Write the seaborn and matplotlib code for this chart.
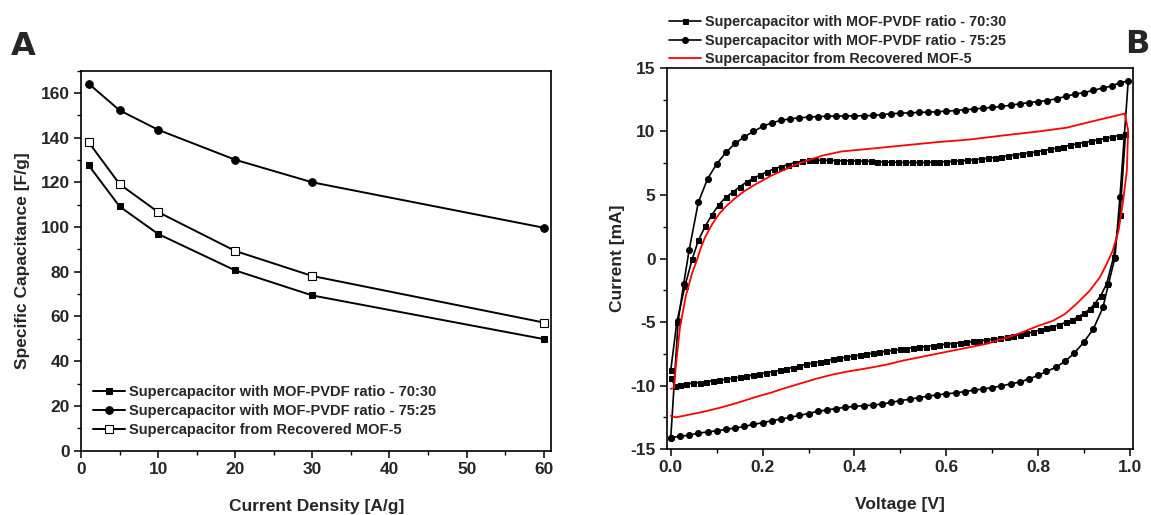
import matplotlib
matplotlib.use('Agg')
import matplotlib.pyplot as plt
import seaborn as sns
import pandas as pd
from matplotlib.ticker import MultipleLocator, FormatStrFormatter

sns.set_style('ticks')
plt.rcParams['font.family'] = ['Liberation Sans', 'DejaVu Sans']
plt.rcParams['axes.unicode_minus'] = False

# ---- Panel A: specific capacitance vs current density
density = [1, 5, 10, 20, 30, 60]
cap_7030 = [127.6, 109.2, 96.9, 80.6, 69.4, 49.9]
cap_7525 = [164.1, 152.2, 143.5, 130.1, 120.0, 99.7]
cap_rec = [137.9, 119.2, 106.7, 89.3, 78.1, 57.3]

labels = ['Supercapacitor with MOF-PVDF ratio - 70:30',
          'Supercapacitor with MOF-PVDF ratio - 75:25',
          'Supercapacitor from Recovered MOF-5']

# ---- Panel B: cyclic voltammetry loops (voltage V, current mA)
v_7030 = [0.000, 0.013, 0.031, 0.047, 0.060, 0.075, 0.090, 0.105, 0.120, 0.135,
          0.150, 0.165, 0.180, 0.195, 0.210, 0.225, 0.240, 0.255, 0.270, 0.285,
          0.300, 0.315, 0.330, 0.345, 0.360, 0.375, 0.390, 0.405, 0.420, 0.435,
          0.450, 0.465, 0.480, 0.495, 0.510, 0.525, 0.540, 0.555, 0.570, 0.585,
          0.600, 0.615, 0.630, 0.645, 0.660, 0.675, 0.690, 0.705, 0.720, 0.735,
          0.750, 0.765, 0.780, 0.795, 0.810, 0.825, 0.840, 0.855, 0.870, 0.885,
          0.900, 0.915, 0.930, 0.945, 0.960, 0.975, 0.990,
          0.978, 0.964,
          0.949, 0.936, 0.923, 0.912, 0.900, 0.887, 0.874, 0.860, 0.846, 0.831,
          0.818, 0.803, 0.789, 0.774, 0.760, 0.745, 0.731, 0.716, 0.702, 0.687,
          0.672, 0.658, 0.643, 0.629, 0.614, 0.600, 0.585, 0.570, 0.556, 0.541,
          0.527, 0.512, 0.498, 0.483, 0.469, 0.454, 0.440, 0.425, 0.411, 0.396,
          0.382, 0.367, 0.353, 0.338, 0.324, 0.309, 0.295, 0.280, 0.266, 0.251,
          0.237, 0.222, 0.208, 0.193, 0.179, 0.164, 0.150, 0.135, 0.121, 0.106,
          0.092, 0.077, 0.063, 0.048, 0.034, 0.019, 0.009, 0.000]
i_7030 = [-8.78, -5.03, -2.14, 0.00, 1.42, 2.54, 3.46, 4.25, 4.83, 5.22,
          5.65, 6.01, 6.33, 6.58, 6.84, 7.06, 7.24, 7.40, 7.55, 7.66,
          7.72, 7.74, 7.74, 7.73, 7.71, 7.70, 7.68, 7.67, 7.66, 7.66,
          7.63, 7.60, 7.58, 7.57, 7.56, 7.56, 7.56, 7.56, 7.58, 7.61,
          7.63, 7.65, 7.69, 7.73, 7.78, 7.83, 7.88, 7.95, 8.01, 8.08,
          8.15, 8.23, 8.31, 8.39, 8.49, 8.60, 8.69, 8.80, 8.92, 9.03,
          9.13, 9.23, 9.34, 9.45, 9.56, 9.68, 9.80,
          3.41, 0.10,
          -2.00, -2.93, -3.58, -3.98, -4.32, -4.58, -4.84, -5.03, -5.21, -5.37,
          -5.47, -5.63, -5.78, -5.90, -6.00, -6.10, -6.21, -6.29, -6.36, -6.42,
          -6.48, -6.53, -6.59, -6.64, -6.70, -6.75, -6.80, -6.87, -6.93, -6.98,
          -7.03, -7.09, -7.16, -7.23, -7.30, -7.38, -7.46, -7.52, -7.60, -7.68,
          -7.76, -7.85, -7.94, -8.03, -8.13, -8.24, -8.34, -8.47, -8.58, -8.70,
          -8.80, -8.91, -9.00, -9.09, -9.18, -9.26, -9.34, -9.43, -9.51, -9.57,
          -9.63, -9.70, -9.76, -9.82, -9.87, -9.93, -10.00, -9.40]

v_7525 = [0.000, 0.016, 0.028, 0.040, 0.060, 0.080, 0.100, 0.120, 0.140, 0.160,
          0.180, 0.200, 0.220, 0.240, 0.260, 0.280, 0.300, 0.320, 0.340, 0.360,
          0.380, 0.400, 0.420, 0.440, 0.460, 0.480, 0.500, 0.520, 0.540, 0.560,
          0.580, 0.600, 0.620, 0.640, 0.660, 0.680, 0.700, 0.720, 0.740, 0.760,
          0.780, 0.800, 0.820, 0.840, 0.860, 0.880, 0.900, 0.920, 0.940, 0.960,
          0.978, 0.996,
          0.978, 0.967,
          0.953, 0.941, 0.920, 0.899, 0.878, 0.858, 0.838, 0.818, 0.800, 0.780,
          0.760, 0.740, 0.720, 0.700, 0.680, 0.660, 0.640, 0.620, 0.600, 0.580,
          0.560, 0.540, 0.520, 0.500, 0.480, 0.460, 0.440, 0.420, 0.400, 0.380,
          0.360, 0.340, 0.320, 0.300, 0.280, 0.260, 0.240, 0.220, 0.200, 0.180,
          0.160, 0.140, 0.120, 0.100, 0.080, 0.060, 0.040, 0.020, 0.000]
i_7525 = [-14.09, -4.90, -2.00, 0.68, 4.43, 6.27, 7.45, 8.35, 9.06, 9.58,
          10.00, 10.40, 10.69, 10.87, 11.00, 11.08, 11.13, 11.18, 11.20, 11.21,
          11.22, 11.23, 11.24, 11.26, 11.33, 11.40, 11.44, 11.47, 11.50, 11.52,
          11.56, 11.60, 11.65, 11.71, 11.77, 11.84, 11.90, 11.97, 12.07, 12.18,
          12.28, 12.36, 12.44, 12.58, 12.76, 12.95, 13.06, 13.24, 13.42, 13.58,
          13.83, 13.98,
          4.85, 0.05,
          -2.00, -3.85, -5.55, -6.60, -7.47, -8.10, -8.57, -8.89, -9.20, -9.48,
          -9.72, -9.87, -10.03, -10.16, -10.26, -10.37, -10.47, -10.58, -10.65, -10.73,
          -10.84, -10.94, -11.08, -11.18, -11.33, -11.45, -11.54, -11.58, -11.64, -11.71,
          -11.81, -11.92, -12.03, -12.20, -12.35, -12.50, -12.64, -12.76, -12.93, -13.05,
          -13.22, -13.34, -13.45, -13.56, -13.65, -13.75, -13.90, -14.00, -14.09]

v_rec = [0.000, 0.007, 0.011, 0.020, 0.033, 0.046, 0.057, 0.065, 0.075, 0.090,
         0.105, 0.120, 0.140, 0.160, 0.180, 0.200, 0.220, 0.245, 0.270, 0.300,
         0.330, 0.372, 0.4336, 0.506, 0.579, 0.651, 0.724, 0.800, 0.862, 0.912,
         0.934, 0.9885,
         0.9957, 0.993, 0.985, 0.975, 0.962,
         0.949, 0.934, 0.912, 0.883, 0.858, 0.832, 0.800, 0.760, 0.724, 0.687,
         0.651, 0.615, 0.579, 0.542, 0.506, 0.470, 0.4336, 0.386, 0.350, 0.314,
         0.278, 0.2415, 0.220, 0.183, 0.147, 0.111, 0.075, 0.038, 0.011, 0.000]
i_rec = [-10.25, -10.20, -8.50, -5.40, -2.90, -1.20, -0.10, 0.80, 1.70, 2.70,
         3.50, 4.10, 4.75, 5.30, 5.75, 6.15, 6.55, 6.95, 7.35, 7.75,
         8.10, 8.43, 8.64, 8.90, 9.16, 9.37, 9.69, 10.00, 10.30, 10.75,
         10.94, 11.41,
         10.10, 6.93, 4.57, 2.20, 0.60,
         -0.43, -1.49, -2.54, -3.58, -4.37, -4.90, -5.30, -5.88, -6.32, -6.72,
         -6.98, -7.24, -7.50, -7.77, -8.03, -8.35, -8.60, -8.89, -9.15, -9.49,
         -9.88, -10.28, -10.54, -10.92, -11.34, -11.71, -12.03, -12.31, -12.50, -12.38]

fig = plt.figure(figsize=(11.51, 5.15), dpi=100)
ax1 = fig.add_axes([0.0704, 0.125, 0.4087, 0.738])
ax2 = fig.add_axes([0.5792, 0.128, 0.4054, 0.740])

bold = {'weight': 'bold', 'size': 12.5}

# ---- A
sns.lineplot(x=density, y=cap_7030, ax=ax1, color='black', lw=1.4, marker='s',
             markersize=5, markerfacecolor='black', markeredgecolor='black', label=labels[0])
sns.lineplot(x=density, y=cap_7525, ax=ax1, color='black', lw=1.4, marker='o',
             markersize=5.5, markerfacecolor='black', markeredgecolor='black', label=labels[1])
sns.lineplot(x=density, y=cap_rec, ax=ax1, color='black', lw=1.4, marker='s',
             markersize=5.5, markerfacecolor='white', markeredgecolor='black',
             markeredgewidth=0.8, label=labels[2])
ax1.set_xlim(0, 61)
ax1.set_ylim(0, 170)
ax1.xaxis.set_major_locator(MultipleLocator(10))
ax1.xaxis.set_minor_locator(MultipleLocator(5))
ax1.yaxis.set_major_locator(MultipleLocator(20))
ax1.yaxis.set_minor_locator(MultipleLocator(10))
ax1.set_xlabel('Current Density [A/g]', fontdict=bold, labelpad=16)
ax1.set_ylabel('Specific Capacitance [F/g]', fontdict=bold, labelpad=8)
ax1.legend(loc='lower left', bbox_to_anchor=(0.025, 0.035), frameon=False,
           prop={'weight': 'bold', 'size': 10.5}, handlelength=2.2,
           handletextpad=0.3, labelspacing=0.35, borderpad=0, borderaxespad=0)

# ---- B
sns.lineplot(x=v_7030, y=i_7030, ax=ax2, sort=False, estimator=None, color='black',
             lw=1.2, marker='s', markersize=3.6, markerfacecolor='black',
             markeredgecolor='black', label=labels[0])
sns.lineplot(x=v_7525, y=i_7525, ax=ax2, sort=False, estimator=None, color='black',
             lw=1.2, marker='o', markersize=4.3, markerfacecolor='black',
             markeredgecolor='black', label=labels[1])
sns.lineplot(x=v_rec, y=i_rec, ax=ax2, sort=False, estimator=None, color='red',
             lw=1.3, label=labels[2])
ax2.set_xlim(-0.009, 1.007)
ax2.set_ylim(-15, 15)
ax2.xaxis.set_major_locator(MultipleLocator(0.2))
ax2.xaxis.set_minor_locator(MultipleLocator(0.1))
ax2.xaxis.set_major_formatter(FormatStrFormatter('%.1f'))
ax2.yaxis.set_major_locator(MultipleLocator(5))
ax2.yaxis.set_minor_locator(MultipleLocator(2.5))
ax2.set_xlabel('Voltage [V]', fontdict=bold, labelpad=16)
ax2.set_ylabel('Current [mA]', fontdict=bold, labelpad=4)
ax2.legend(loc='lower left', bbox_to_anchor=(0.005, 1.005), frameon=False,
           prop={'weight': 'bold', 'size': 10.4}, handlelength=2.2,
           handletextpad=0.3, labelspacing=0.3, borderpad=0, borderaxespad=0)

# panel letters
fig.text(0.009, 0.94, 'A', fontsize=23, fontweight='bold', family='DejaVu Sans',
         va='top', ha='left')
fig.text(0.999, 0.944, 'B', fontsize=23, fontweight='bold', family='DejaVu Sans',
         va='top', ha='right')

for ax in (ax1, ax2):
    for s in ax.spines.values():
        s.set_visible(True)
        s.set_linewidth(1.2)
        s.set_color('black')
    ax.tick_params(which='major', direction='out', length=5, width=1.1,
                   labelsize=12.5, color='black', pad=3)
    ax.tick_params(which='minor', direction='out', length=3, width=1.0, color='black')
    ax.tick_params(top=False, right=False, which='both')
    for t in ax.get_xticklabels() + ax.get_yticklabels():
        t.set_fontweight('bold')

fig.savefig('out.png', dpi=100)
